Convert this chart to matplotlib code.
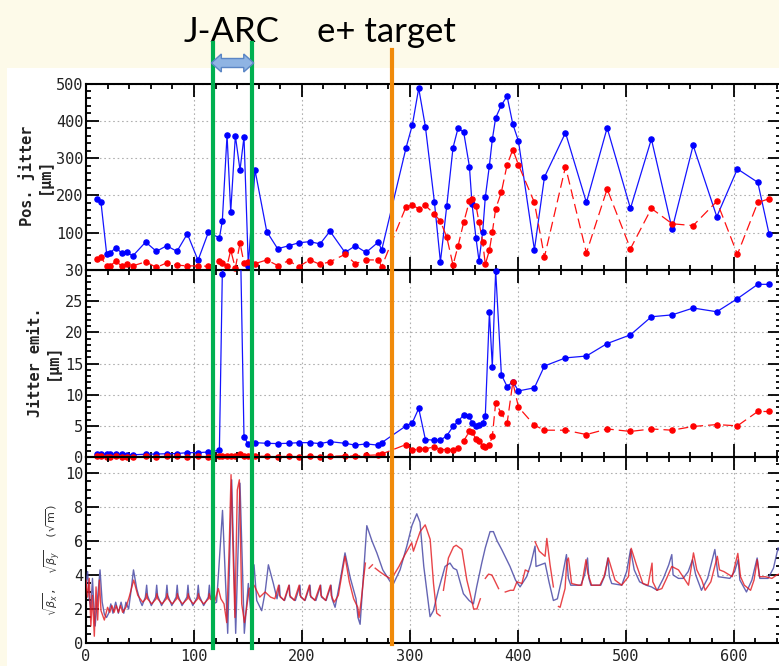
import numpy as np
import matplotlib
matplotlib.use("Agg")
import matplotlib.pyplot as plt
from matplotlib.lines import Line2D
from matplotlib.patches import Rectangle, Polygon
from matplotlib.ticker import MultipleLocator

# DATA
s_pts = [9.9, 13.9, 19.2, 22.2, 27.8, 33.1, 38.0, 43.3, 55.3, 65.2, 74.8, 84.3, 93.9, 103.8, 113.4, 123.6,
         126.3, 130.7, 134.1, 138.4, 142.7, 146.4, 150.4, 156.6, 167.5, 177.6, 187.8, 197.1, 207.3, 216.9,
         226.1, 240.0, 249.6, 259.5, 270.9, 274.0,
         296.6, 302.4, 308.3, 314.5, 322.8, 328.4, 334.3, 340.1, 344.8, 350.0, 355.3, 357.7, 361.4, 364.2,
         367.6, 370.0, 373.8, 376.5, 379.6, 384.9, 390.2, 395.5, 400.7, 415.5, 424.8, 444.3, 463.7, 482.9,
         504.5, 523.9, 543.1, 562.6, 584.5, 603.6, 622.5, 633.0]

pos_blue = [190, 181, 42, 46, 60, 45, 47, 37.5, 75, 50, 65, 50, 97, 26, 101, 86, 131, 362, 156, 360, 268,
            357, 12, 268, 103, 57, 65, 73, 76, 70, 104, 47, 65, 47, 75, 53.6,
            328, 389, 487, 384, 183, 22, 172, 328, 381, 369, 277, 177, 85, 24, 103, 195, 280, 350, 408,
            442, 466, 391, 346, 54, 249, 368, 181, 381, 165, 351, 110, 334, 143, 271, 235, 96]
pos_red = [29.5, 34, 10.7, 10.7, 24, 10, 15, 11, 22, 7, 19, 13, 11, 11, 10, 25, 19, 11, 53, 5, 72, 19, 22,
           17, 27, 12, 25, 9, 27, 15, 22, 42, 17, 27, 27, 9,
           170, 174, 164, 173, 150, 131, 88, 13, 65, 128, 185, 191, 172, 128, 75, 15, 53, 101, 164, 209,
           282, 323, 282, 181, 35, 277, 46, 217, 57, 165, 124, 119, 184, 42, 181, 191]

emit_blue = [0.48, 0.48, 0.45, 0.45, 0.42, 0.42, 0.4, 0.35, 0.45, 0.48, 0.52, 0.55, 0.7, 0.7, 0.8, 1.07,
             29.3, 34, 60, 70, 38, 3.26, 2.03, 2.3, 2.2, 2.15, 2.2, 2.3, 2.3, 2.15, 2.46, 2.2, 1.9, 2.1,
             1.9, 2.3,
             5.0, 5.5, 7.8, 2.8, 2.7, 2.7, 3.4, 4.9, 5.7, 6.8, 6.6, 5.4, 4.9, 5.1, 5.5, 6.6, 23.2, 14.5,
             29.9, 13.2, 11.3, 12.1, 10.6, 11.1, 14.6, 15.9, 16.2, 18.2, 19.6, 22.5, 22.8, 23.9, 23.3,
             25.4, 27.7, 27.7]
emit_red = [0.1, 0.1, 0.05, 0.05, 0.1, 0.05, 0.05, 0.05, 0.1, 0.05, 0.1, 0.1, 0.05, 0.1, 0.05, 0.15, 0.1,
            0.1, 0.2, 0.1, 0.5, 0.15, 0.1, 0.15, 0.1, 0.05, 0.1, 0.05, 0.1, 0.05, 0.1, 0.2, 0.15, 0.25,
            0.35, 0.48,
            2.0, 1.1, 1.3, 1.3, 1.65, 1.2, 1.2, 1.1, 1.5, 2.6, 4.1, 4.0, 2.9, 2.6, 1.8, 1.65, 2.0, 3.3,
            8.7, 7.0, 5.4, 12.0, 8.0, 5.1, 4.3, 4.3, 3.6, 4.5, 4.1, 4.5, 4.3, 4.9, 5.2, 5.0, 7.3, 7.3]

beta_x_s = [0, 1.5, 3, 4.5, 6, 7, 8.5, 10, 11.5, 13, 15, 17, 19, 21, 23, 25, 27.5, 30, 32.5, 35,
            37, 39.5, 42, 44, 47, 50, 52, 55, 56.2, 57, 60.5, 64.5, 65.5, 66.3, 70, 74, 75, 75.8, 79.5, 83.5,
            84.5, 85.3, 89, 93.5, 94.5, 95.3, 99, 103, 104, 104.8, 109, 113.3, 114.3, 115, 118, 121, 123,
            126.5, 129, 131.3, 135, 138.7, 142.7, 146.7, 150.4, 152.5, 155.7, 158.2, 162.8, 166,
            169, 173.6, 177, 179.2, 180, 184, 188.4, 189.2, 194, 198.3, 199, 203, 207.6, 208.3, 213, 217.5,
            218.2, 222.5, 227.1, 228, 230.8, 235, 240, 245, 250.2, 252, 254, 256, 260.2, 265,
            269.5, 275, 282, 285, 291, 297.3, 302, 306.5, 309.5, 313, 318.8, 321.9, 326.5, 332.7, 337.3,
            340.4, 343.5, 349.7, 355, 359, 362, 366.7, 370, 374.4, 377.5, 381, 385.2, 392.9, 398, 402.2,
            408.3, 412, 416.1, 417, 425.4, 429, 433.1, 436.8, 441, 445.2, 447, 449.2, 458.5, 462, 464.7,
            466, 467.8, 477, 481, 483.5, 485, 487.1, 496.4, 501, 504.6, 508, 513, 519, 524, 529.3,
            535, 540, 542.8, 544, 549, 553.3, 558, 562, 565, 570.3, 576, 582.7, 585.8, 596.6, 601, 604.3,
            605.9, 612, 617, 621.9, 624.4, 632, 637, 641.3, 644]
beta_x_v = [3.5, 4.2, 2.6, 2.0, 3.8, 2.5, 1.0, 2.2, 3.2, 4.3, 2.4, 1.7, 1.5, 1.75, 2.3, 1.75, 2.4, 1.75,
            2.4, 1.75, 2.4, 2.0, 3.2, 4.3, 3.2, 2.5, 2.2, 2.7, 3.4, 2.8, 2.2, 2.7, 3.4, 2.8, 2.2, 2.7, 3.4,
            2.8, 2.2, 2.7, 3.4, 2.8, 2.2, 2.7, 3.4, 2.8, 2.2, 2.7, 3.4, 2.8, 2.2, 2.7, 3.4, 2.8, 2.3, 2.4,
            4.3, 7.8, 4.0, 0.57, 9.6, 0.57, 9.4, 0.57, 3.5, 2.0, 4.6, 2.5, 1.9, 3.0, 4.6, 3.5, 2.6, 3.4,
            2.7, 2.5, 3.4, 2.7, 2.5, 3.4, 2.7, 2.5, 3.4, 2.7, 2.5, 3.4, 2.7, 2.5, 3.4, 2.6, 2.1, 3.5, 5.3,
            3.8, 2.6, 1.5, 1.1, 3.0, 6.9, 6.0, 5.3, 4.3, 3.6, 3.5, 4.3, 5.7, 6.9, 7.6, 7.1, 4.5, 1.55,
            1.9, 3.1, 4.5, 4.7, 4.4, 4.3, 2.9, 2.5, 2.3, 3.3, 4.7, 5.6, 6.55, 6.55, 6.0, 5.5, 4.5, 3.7,
            3.3, 3.9, 4.6, 5.7, 4.5, 4.7, 3.6, 2.5, 2.6, 3.8, 5.2, 3.8, 3.4, 3.4, 4.0, 5.0, 3.8, 3.4, 3.4,
            4.0, 5.0, 3.9, 3.5, 3.4, 4.2, 5.5, 4.3, 3.6, 3.4, 3.3, 3.1, 3.8, 4.6, 5.2, 4.0, 3.8, 3.8, 4.2,
            4.9, 4.0, 3.1, 3.8, 5.5, 3.9, 3.8, 4.2, 4.9, 3.7, 3.0, 3.7, 5.0, 3.8, 3.8, 4.4, 5.6, 5.2]

nan = np.nan
beta_y_s = [0, 1.5, 3, 4.5, 6, 7.7, 9.3, 10.8, 12.4, 13.9, 17, 20, 22, 24, 26, 28, 30, 32, 34, 37,
            40, 44.2, 48, 52.5, 55.5, 56.2, 57, 61, 65, 65.7, 66.5, 70.5, 74.5, 75.2, 76, 80, 84, 84.7,
            85.5, 89.5, 94, 94.7, 95.5, 99.5, 103.5, 104.2, 105, 109, 113.5, 114.2, 115, 119, 122.6, 125,
            127.9, 130.4, 132.8, 134.4, 136, 138, 140.2, 142.1, 144.3, 146.8, 148.9, 151.3, 155.7, 161,
            166, 171, 175, 178.5, 179.2, 183.5, 188, 188.7, 193, 197.5, 198.2, 202.5, 207, 207.7, 212,
            217, 217.7, 222, 226.5, 227.2, 230, 233.8, 237, 240, 244, 248, 251.8, 253, 255, 257.4, 258.9,
            260.5, 262.3, 265.4, 266.8, 268, 272, 276.5, 281.7, 285.2, 290, 295.6, 301.8, 303.4, 309.6,
            314.3, 318.9, 322, 325, 328.1, 329.5, 331.2, 335.8, 340.5, 343, 348.3, 352.9, 356, 359.2,
            362.2, 365.4, 367, 370, 373, 376.1, 377.7, 382.3, 385, 388.5, 393.2, 396.2, 399.3, 403.9, 407,
            410, 413, 416.1, 420, 425.4, 427, 430, 433.1, 435.5, 437.8, 439.3, 443.9, 445.5, 447, 450,
            456.2, 459.3, 463.3, 465, 468.5, 476.2, 480, 484, 490.2, 496.4, 502.6, 505.2, 510, 516, 520.8,
            524.5, 525.2, 529, 533.6, 538, 542.8, 549, 558.3, 562.9, 566, 570.6, 573.7, 579, 585, 587,
            591.1, 598.8, 604, 606.5, 610, 615.8, 619, 622, 624, 629.4, 635.6, 640, 644]
beta_y_v = [3.7, 2.7, 3.8, 1.0, 2.8, 0.4, 3.3, 1.35, 3.7, 1.9, 1.35, 2.1, 1.8, 2.2, 1.8, 2.2, 1.8, 2.2,
            1.8, 2.1, 2.7, 3.7, 2.8, 2.4, 2.6, 2.9, 2.6, 2.3, 2.6, 2.9, 2.6, 2.3, 2.6, 2.9, 2.6, 2.3, 2.6,
            2.9, 2.6, 2.3, 2.6, 2.9, 2.6, 2.3, 2.6, 2.9, 2.6, 2.3, 2.6, 2.9, 2.6, 2.4, 3.2, 2.6, 2.3, 1.2,
            5.9, 9.9, 6.0, 1.5, 9.0, 9.6, 2.3, 1.2, 2.1, 3.2, 3.4, 2.7, 3.0, 2.7, 2.6, 3.4, 2.8, 2.5, 3.4,
            2.8, 2.5, 3.4, 2.8, 2.5, 3.4, 2.8, 2.5, 3.4, 2.8, 2.5, 3.4, 2.8, 2.4, 2.8, 4.0, 5.1, 3.6, 2.6,
            2.1, 1.5, 2.5, 3.9, 4.7, nan, 4.4, 4.6, nan, 4.4, 4.2, 4.0, 3.8, 4.0, 4.5, 5.2, 5.9, 5.4,
            6.55, 6.95, 6.1, 3.5, 1.75, 1.6, nan, 3.1, 5.0, 5.65, 5.75, 5.5, 3.7, 2.9, 2.0, 2.0, 2.6, nan,
            3.8, 4.05, 4.0, 3.8, 3.2, nan, 3.0, 3.1, 3.1, 3.6, 3.5, 4.3, 4.2, nan, 5.96, 5.4, 5.1, 6.15,
            4.6, 3.3, nan, 2.15, 2.1, 3.2, 4.8, 5.0, 3.5, 3.4, 3.4, 4.9, 4.1, 3.4, 3.4, 3.9, 5.0, 3.7,
            3.4, 3.9, 5.57, 4.6, 3.5, 3.4, 4.7, 3.6, 3.1, 3.2, 3.8, 4.5, 4.3, 3.4, 5.3, 4.3, 3.7, 3.1,
            3.6, 5.1, 4.3, 4.2, 3.9, 5.27, 3.9, 3.4, 3.1, 3.7, 4.9, 3.9, 3.9, 3.8, 4.0, 4.1]

jarc_start, jarc_end, target_s = 118.0, 153.6, 283.3

# FIGURE SETUP
W, H = 779, 666
plt.rcParams["font.family"] = "DejaVu Sans Mono"
plt.rcParams["font.size"] = 11
fig = plt.figure(figsize=(W / 100, H / 100), dpi=100)
fig.patch.set_facecolor("#fdfae9")
fig.add_artist(Rectangle((7 / W, 0), 1, 1 - 68 / H, transform=fig.transFigure,
                         facecolor="white", edgecolor="none", zorder=-5))


def make_ax(top_px, bot_px):
    ax = fig.add_axes([86 / W, 1 - bot_px / H, (781 - 86) / W, (bot_px - top_px) / H])
    ax.set_facecolor("none")
    ax.set_xlim(0, 644)
    ax.xaxis.set_major_locator(MultipleLocator(100))
    ax.xaxis.set_minor_locator(MultipleLocator(20))
    ax.tick_params(which="both", direction="in", top=True, right=True, width=1.3,
                   labelsize=11, labelcolor="#222222", pad=2)
    ax.tick_params(which="major", length=9.5)
    ax.tick_params(which="minor", length=3.5)
    ax.tick_params(axis="x", pad=4)
    for sp in ax.spines.values():
        sp.set_linewidth(1.5)
    ax.grid(True, which="major", linestyle=(0, (1.5, 2.5)), color="#b0b0b0", linewidth=0.8)
    ax.set_axisbelow(True)
    return ax


ax1 = make_ax(83.5, 270)
ax2 = make_ax(270, 457)
ax3 = make_ax(457, 643)
ax1.tick_params(labelbottom=False)
ax2.tick_params(labelbottom=False)

s = np.array(s_pts)


def jitter_plot(ax, yb, yr, ytop):
    yb = np.array(yb, dtype=float)
    yr = np.array(yr, dtype=float)
    ax.plot(s, yb, color="#1414ff", lw=0.9, zorder=3)
    ax.plot(s, yr, color="#ff1010", lw=0.9, dashes=(8, 4), zorder=3)
    mb = yb <= ytop
    mr = yr <= ytop
    ax.plot(s[mb], yb[mb], "o", ms=3.7, color="#0000ff", clip_on=False, zorder=4)
    ax.plot(s[mr], yr[mr], "o", ms=3.7, color="#ff0000", clip_on=False, zorder=4)


# TOP PANEL
jitter_plot(ax1, pos_blue, pos_red, 500)
ax1.set_ylim(0, 500)
ax1.yaxis.set_major_locator(MultipleLocator(100))
ax1.yaxis.set_minor_locator(MultipleLocator(20))
ax1.set_yticks(np.arange(0, 501, 100))
ax1.set_yticklabels([""] + [str(v) for v in range(100, 501, 100)])

# MIDDLE PANEL
jitter_plot(ax2, emit_blue, emit_red, 30)
ax2.set_ylim(0, 30)
ax2.yaxis.set_major_locator(MultipleLocator(5))
ax2.yaxis.set_minor_locator(MultipleLocator(1))

# BOTTOM PANEL
ax3.plot(beta_x_s, beta_x_v, color="#4a4aa6", lw=1.0, alpha=0.85, zorder=3)
ax3.plot(beta_y_s, beta_y_v, color="#e3161c", lw=1.0, alpha=0.8, zorder=3)
ax3.set_ylim(0, 10.94)
ax3.yaxis.set_major_locator(MultipleLocator(2))
ax3.yaxis.set_minor_locator(MultipleLocator(0.5))

# AXIS LABELS
fig.text(35 / W, 1 - 176 / H, "Pos. jitter\n[μm]", rotation=90, ha="center", va="center",
         ma="center", fontsize=11, fontweight="bold", color="#222222", linespacing=1.15)
fig.text(44 / W, 1 - 362 / H, "Jitter emit.\n[μm]", rotation=90, ha="center", va="center",
         ma="center", fontsize=11, fontweight="bold", color="#222222", linespacing=1.15)
fig.text(52 / W, 1 - 560 / H, r"$\sqrt{\beta_x}$,  $\sqrt{\beta_y}$  ($\sqrt{\rm m}$)",
         rotation=90, ha="center", va="center", fontsize=8, color="#333333")

# MARKER LINES AND ANNOTATIONS
inv = fig.transFigure.inverted()


def fig_x(xv):
    return inv.transform(ax3.transData.transform((xv, 0)))[0]


for xv, col, ytop, ybot in [(jarc_start, "#00b050", 43, 648), (jarc_end, "#00b050", 43, 648),
                            (target_s, "#f08a0a", 50, 644)]:
    xf = fig_x(xv)
    fig.add_artist(Line2D([xf, xf], [1 - ytop / H, 1 - ybot / H], color=col, lw=3.0,
                          transform=fig.transFigure, zorder=10))

x1 = fig_x(jarc_start) * W - 2
x2 = fig_x(jarc_end) * W + 2
yc = H - 63
hl, hh, sh = 10, 9, 4.5
arrow_pts = [(x1, yc), (x1 + hl, yc + hh), (x1 + hl, yc + sh), (x2 - hl, yc + sh), (x2 - hl, yc + hh),
             (x2, yc), (x2 - hl, yc - hh), (x2 - hl, yc - sh), (x1 + hl, yc - sh), (x1 + hl, yc - hh)]
fig.add_artist(Polygon([(px / W, py / H) for px, py in arrow_pts], closed=True,
                       transform=fig.transFigure, facecolor="#8fb4e3", edgecolor="#5b86c5",
                       lw=1.0, zorder=11))

fig.text(231 / W, 1 - 42 / H, "J-ARC", ha="center", va="baseline", fontsize=25,
         family="Lato", color="black")
fig.text(386 / W, 1 - 42 / H, "e+ target", ha="center", va="baseline", fontsize=25,
         family="Lato", color="black")

fig.savefig("out.png", dpi=100, facecolor=fig.get_facecolor())
